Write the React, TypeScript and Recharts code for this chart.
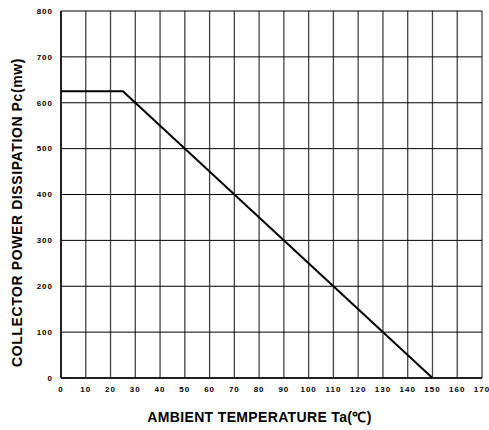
import React from "react";
import { LineChart, Line, XAxis, YAxis, CartesianGrid, Label } from "recharts";

// derating curve: flat 625 mW up to 25 C, then linear to 0 at 150 C
const temperature = [0, 25, 150];
const power = [625, 625, 0];

const X_TICKS = [0, 10, 20, 30, 40, 50, 60, 70, 80, 90, 100, 110, 120, 130, 140, 150, 160, 170];
const X_MINOR = [5, 15, 25, 35, 45, 55, 65, 75, 85, 95, 105, 115, 125, 135, 145, 155, 165];
const Y_TICKS = [0, 100, 200, 300, 400, 500, 600, 700, 800];
const Y_MINOR = [50, 150, 250, 350, 450, 550, 650, 750];

const data = temperature.map((t, i) => ({ t, pc: power[i] }));

const tickFont = { fontSize: 8, fontWeight: "bold", fill: "#000", fontFamily: "Arial, Liberation Sans, sans-serif", letterSpacing: 1 };
const labelFont = { fontSize: 14, fontWeight: "bold", fill: "#000", fontFamily: "Arial, Liberation Sans, sans-serif" };

const App: React.FC = () => {
    return (
        <div style={{ position: "absolute", left: 0, top: 0, background: "#fff" }}>
            <LineChart width={489} height={430} data={data} margin={{ top: 11, right: 7, bottom: 0, left: 0 }}>
                <CartesianGrid horizontal={false} stroke="#444" strokeWidth={1.3} />
                <CartesianGrid vertical={false} stroke="#000" strokeWidth={1} />
                <XAxis
                    dataKey="t"
                    type="number"
                    domain={[0, 170]}
                    ticks={X_TICKS}
                    interval={0}
                    height={52}
                    tickLine={false}
                    tickSize={6}
                    tickMargin={2}
                    axisLine={{ stroke: "#000", strokeWidth: 1.5 }}
                    tick={tickFont}
                >
                    <Label value="AMBIENT TEMPERATURE Ta(℃)" position="insideBottom" offset={8} dx={-12} style={{ ...labelFont, letterSpacing: 0.35 }} />
                </XAxis>
                <XAxis
                    xAxisId="minorBottom"
                    type="number"
                    domain={[0, 170]}
                    ticks={X_MINOR}
                    interval={0}
                    mirror
                    height={0}
                    tick={false}
                    tickSize={3}
                    tickLine={{ stroke: "#000" }}
                    axisLine={false}
                />
                <XAxis
                    xAxisId="minorTop"
                    orientation="top"
                    type="number"
                    domain={[0, 170]}
                    ticks={X_MINOR}
                    interval={0}
                    mirror
                    height={0}
                    tick={false}
                    tickSize={3}
                    tickLine={{ stroke: "#000" }}
                    axisLine={{ stroke: "#000", strokeWidth: 1.5 }}
                />
                <YAxis
                    type="number"
                    domain={[0, 800]}
                    ticks={Y_TICKS}
                    interval={0}
                    width={61}
                    tickLine={false}
                    tickSize={6}
                    tickMargin={2}
                    axisLine={{ stroke: "#000", strokeWidth: 1.5 }}
                    tick={tickFont}
                >
                    <Label value="COLLECTOR POWER DISSIPATION Pc(mw)" angle={-90} position="center" dx={-13} dy={18} style={{ ...labelFont, letterSpacing: 0.6 }} />
                </YAxis>
                <YAxis
                    yAxisId="minorLeft"
                    type="number"
                    domain={[0, 800]}
                    ticks={Y_MINOR}
                    interval={0}
                    mirror
                    width={0}
                    tick={false}
                    tickSize={3}
                    tickLine={{ stroke: "#000" }}
                    axisLine={false}
                />
                <YAxis
                    yAxisId="minorRight"
                    orientation="right"
                    type="number"
                    domain={[0, 800]}
                    ticks={Y_MINOR}
                    interval={0}
                    mirror
                    width={0}
                    tick={false}
                    tickSize={3}
                    tickLine={{ stroke: "#000" }}
                    axisLine={{ stroke: "#000", strokeWidth: 1.5 }}
                />
                <Line
                    type="linear"
                    dataKey="pc"
                    stroke="#000"
                    strokeWidth={2}
                    dot={false}
                    isAnimationActive={false}
                />
            </LineChart>
        </div>
    );
};

export default App;
